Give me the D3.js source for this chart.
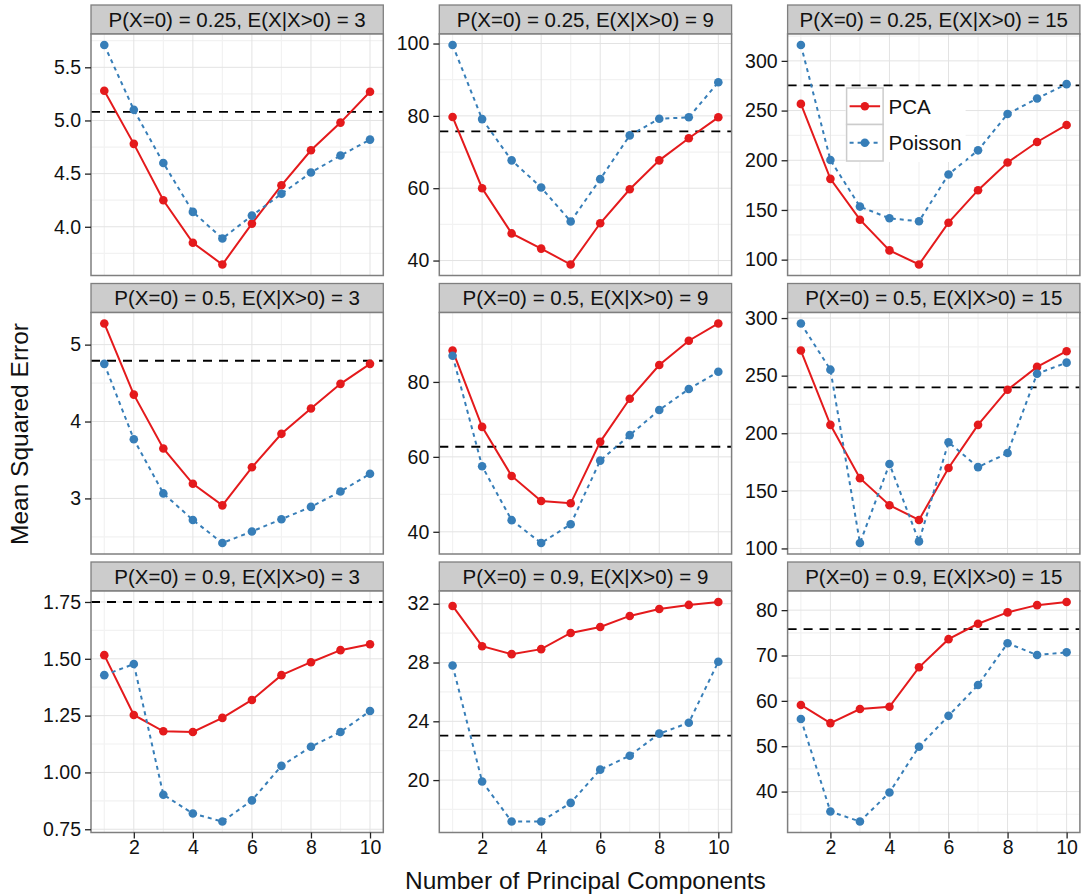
<!DOCTYPE html>
<html>
<head>
<meta charset="utf-8">
<script src="https://cdn.jsdelivr.net/npm/d3@7"></script>
<style>
  body { margin: 0; background: #fff; }
  svg text { font-family: "Liberation Sans", Arial, sans-serif; }
</style>
</head>
<body>
<div id="chart"></div>
<script>
// number of principal components on the x axis
const components = [1, 2, 3, 4, 5, 6, 7, 8, 9, 10]
const xTickLabels = ["2", "4", "6", "8", "10"]

// facet strips, read left to right, top to bottom
const stripLabels = [
  "P(X=0) = 0.25, E(X|X>0) = 3", "P(X=0) = 0.25, E(X|X>0) = 9", "P(X=0) = 0.25, E(X|X>0) = 15",
  "P(X=0) = 0.5, E(X|X>0) = 3", "P(X=0) = 0.5, E(X|X>0) = 9", "P(X=0) = 0.5, E(X|X>0) = 15",
  "P(X=0) = 0.9, E(X|X>0) = 3", "P(X=0) = 0.9, E(X|X>0) = 9", "P(X=0) = 0.9, E(X|X>0) = 15"
]

const pcaMSE = [
  [5.28, 4.78, 4.25, 3.85, 3.645, 4.03, 4.39, 4.72, 4.98, 5.27],
  [79.7, 60.0, 47.5, 43.3, 38.9, 50.3, 59.7, 67.7, 73.8, 79.6],
  [256.7, 181.3, 140.2, 109.3, 95.1, 137.2, 169.9, 197.8, 218.4, 235.5],
  [5.275, 4.35, 3.65, 3.19, 2.91, 3.405, 3.84, 4.17, 4.49, 4.75],
  [88.4, 68.0, 54.9, 48.2, 47.6, 64.0, 75.5, 84.5, 91.0, 95.6],
  [271.8, 207.3, 161.0, 137.5, 124.7, 169.8, 207.3, 237.8, 257.6, 271.2],
  [1.516, 1.253, 1.181, 1.178, 1.240, 1.319, 1.428, 1.485, 1.538, 1.564],
  [31.85, 29.11, 28.57, 28.91, 30.01, 30.42, 31.17, 31.64, 31.92, 32.12],
  [59.1, 55.1, 58.2, 58.7, 67.4, 73.6, 77.0, 79.5, 81.1, 81.8]
]

const poissonMSE = [
  [5.71, 5.10, 4.60, 4.14, 3.89, 4.105, 4.31, 4.51, 4.67, 4.82],
  [99.6, 79.1, 67.7, 60.2, 50.8, 62.5, 74.6, 79.2, 79.6, 89.3],
  [316.0, 200.2, 153.4, 141.6, 138.6, 185.7, 210.0, 246.6, 262.1, 276.6],
  [4.75, 3.77, 3.065, 2.72, 2.42, 2.57, 2.73, 2.89, 3.09, 3.32],
  [87.0, 57.5, 43.1, 37.0, 42.0, 59.0, 65.8, 72.5, 78.1, 82.7],
  [295.3, 255.2, 104.7, 173.3, 106.1, 192.2, 170.6, 182.8, 251.7, 261.3],
  [1.428, 1.477, 0.902, 0.819, 0.784, 0.877, 1.029, 1.113, 1.178, 1.270],
  [27.8, 19.9, 17.18, 17.18, 18.45, 20.71, 21.66, 23.16, 23.90, 28.05],
  [56.0, 35.6, 33.4, 39.8, 49.9, 56.7, 63.5, 72.7, 70.1, 70.7]
]

// dashed reference line in each panel
const baselineMSE = [5.08, 75.7, 275.3, 4.79, 62.7, 239.8, 1.75, 23.02, 75.8]

const yTickLabels = [
  ["4.0", "4.5", "5.0", "5.5"],
  ["40", "60", "80", "100"],
  ["100", "150", "200", "250", "300"],
  ["3", "4", "5"],
  ["40", "60", "80"],
  ["100", "150", "200", "250", "300"],
  ["0.75", "1.00", "1.25", "1.50", "1.75"],
  ["20", "24", "28", "32"],
  ["40", "50", "60", "70", "80"]
]

const seriesNames = ["PCA", "Poisson"]
const seriesColors = ["#E41A1C", "#377EB8"]
const seriesDash = [null, "4,4"]

// layout
var marginLeft = 91, marginTop = 5
var colW = 292.3, colGap = 56
var stripH = 29, panelH = 241.5, rowGap = 8

var svg = d3.select("#chart")
  .append("svg")
  .attr("width", 1083)
  .attr("height", 896)

var xExt = d3.extent(components)
var xPad = (xExt[1] - xExt[0]) * 0.05
var x = d3.scaleLinear()
  .domain([xExt[0] - xPad, xExt[1] + xPad])
  .range([0, colW])

stripLabels.forEach(function(label, i) {
  var row = Math.floor(i / 3), col = i % 3
  var g = svg.append("g")
    .attr("transform", "translate(" + (marginLeft + col * (colW + colGap)) + "," + (marginTop + row * (stripH + panelH + rowGap)) + ")")

  // strip
  g.append("rect")
    .attr("x", 0).attr("y", 0)
    .attr("width", colW).attr("height", stripH)
    .attr("fill", "#CCCCCC")
    .attr("stroke", "#7F7F7F")
    .attr("stroke-width", 1.3)
  g.append("text")
    .attr("x", colW / 2).attr("y", stripH / 2 + 7)
    .attr("text-anchor", "middle")
    .attr("font-size", "20.5px")
    .attr("fill", "#111")
    .text(label)

  var p = g.append("g").attr("transform", "translate(0," + stripH + ")")

  var all = pcaMSE[i].concat(poissonMSE[i], [baselineMSE[i]])
  var ext = d3.extent(all)
  var pad = (ext[1] - ext[0]) * 0.05
  var y = d3.scaleLinear()
    .domain([ext[0] - pad, ext[1] + pad])
    .range([panelH, 0])

  p.append("rect")
    .attr("width", colW).attr("height", panelH)
    .attr("fill", "#fff")

  // minor grid
  var ticks = yTickLabels[i].map(Number)
  var step = ticks[1] - ticks[0]
  var minorY = [ticks[0] - step / 2].concat(ticks.map(function(t) { return t + step / 2 }))
    .filter(function(v) { return v > y.domain()[0] && v < y.domain()[1] })
  p.selectAll(".minory")
    .data(minorY)
    .enter().append("line")
    .attr("x1", 0).attr("x2", colW)
    .attr("y1", function(d) { return y(d) }).attr("y2", function(d) { return y(d) })
    .attr("stroke", "#F2F2F2").attr("stroke-width", 1.2)
  p.selectAll(".minorx")
    .data(components.filter(function(d) { return d % 2 == 1 }))
    .enter().append("line")
    .attr("y1", 0).attr("y2", panelH)
    .attr("x1", function(d) { return x(d) }).attr("x2", function(d) { return x(d) })
    .attr("stroke", "#F2F2F2").attr("stroke-width", 1.2)

  // major grid
  p.selectAll(".majory")
    .data(ticks)
    .enter().append("line")
    .attr("x1", 0).attr("x2", colW)
    .attr("y1", function(d) { return y(d) }).attr("y2", function(d) { return y(d) })
    .attr("stroke", "#E3E3E3").attr("stroke-width", 1)
  p.selectAll(".majorx")
    .data(xTickLabels.map(Number))
    .enter().append("line")
    .attr("y1", 0).attr("y2", panelH)
    .attr("x1", function(d) { return x(d) }).attr("x2", function(d) { return x(d) })
    .attr("stroke", "#E3E3E3").attr("stroke-width", 1)

  // reference line
  p.append("line")
    .attr("x1", 0).attr("x2", colW)
    .attr("y1", y(baselineMSE[i])).attr("y2", y(baselineMSE[i]))
    .attr("stroke", "#000")
    .attr("stroke-width", 1.8)
    .attr("stroke-dasharray", "9,7")

  var series = [pcaMSE[i], poissonMSE[i]]
  var line = d3.line()
    .x(function(d, j) { return x(components[j]) })
    .y(function(d) { return y(d) })

  series.forEach(function(vals, s) {
    p.append("path")
      .datum(vals)
      .attr("d", line)
      .attr("fill", "none")
      .attr("stroke", seriesColors[s])
      .attr("stroke-width", 2)
      .attr("stroke-dasharray", seriesDash[s])
  })
  series.forEach(function(vals, s) {
    p.selectAll(".pt" + s)
      .data(vals)
      .enter().append("circle")
      .attr("cx", function(d, j) { return x(components[j]) })
      .attr("cy", function(d) { return y(d) })
      .attr("r", 4.3)
      .attr("fill", seriesColors[s])
  })

  // border
  p.append("rect")
    .attr("width", colW).attr("height", panelH)
    .attr("fill", "none")
    .attr("stroke", "#7F7F7F")
    .attr("stroke-width", 1.5)

  // y axis
  var yAxis = p.append("g")
    .call(d3.axisLeft(y)
      .tickValues(ticks)
      .tickFormat(function(d, k) { return yTickLabels[i][k] })
      .tickSize(6)
      .tickSizeOuter(0)
      .tickPadding(4))
  yAxis.select(".domain").remove()
  yAxis.selectAll("line").attr("stroke", "#222").attr("stroke-width", 1.3)
  yAxis.selectAll("text")
    .attr("font-size", "19.5px")
    .attr("fill", "#111")
    .attr("font-family", "Liberation Sans, Arial, sans-serif")

  // x axis only on the bottom row
  if (row == 2) {
    var xAxis = p.append("g")
      .attr("transform", "translate(0," + panelH + ")")
      .call(d3.axisBottom(x)
        .tickValues(xTickLabels.map(Number))
        .tickFormat(function(d, k) { return xTickLabels[k] })
        .tickSize(6)
        .tickSizeOuter(0)
        .tickPadding(2))
    xAxis.select(".domain").remove()
    xAxis.selectAll("line").attr("stroke", "#222").attr("stroke-width", 1.3)
    xAxis.selectAll("text")
      .attr("font-size", "19.5px")
      .attr("fill", "#111")
      .attr("font-family", "Liberation Sans, Arial, sans-serif")
  }

  // legend lives inside the top right panel
  if (i == 2) {
    var lg = p.append("g").attr("transform", "translate(59,54)")
    lg.append("rect")
      .attr("x", -1).attr("y", -1)
      .attr("width", 120).attr("height", 75)
      .attr("fill", "#fff")
    seriesNames.forEach(function(name, s) {
      var ky = s * 36.5
      lg.append("rect")
        .attr("x", 0).attr("y", ky)
        .attr("width", 36.5).attr("height", 36.5)
        .attr("fill", "#fff")
        .attr("stroke", "#CCCCCC")
        .attr("stroke-width", 1.5)
      lg.append("line")
        .attr("x1", 3).attr("x2", 33.5)
        .attr("y1", ky + 18.25).attr("y2", ky + 18.25)
        .attr("stroke", seriesColors[s])
        .attr("stroke-width", 2)
        .attr("stroke-dasharray", seriesDash[s])
      lg.append("circle")
        .attr("cx", 18.25).attr("cy", ky + 18.25)
        .attr("r", 4.3)
        .attr("fill", seriesColors[s])
      lg.append("text")
        .attr("x", 42).attr("y", ky + 18.25 + 7.3)
        .attr("font-size", "20.5px")
        .attr("fill", "#111")
        .text(name)
    })
  }
})

// axis titles
svg.append("text")
  .attr("x", marginLeft + (3 * colW + 2 * colGap) / 2)
  .attr("y", 889)
  .attr("text-anchor", "middle")
  .attr("font-size", "24.5px")
  .attr("fill", "#111")
  .text("Number of Principal Components")

svg.append("text")
  .attr("transform", "translate(28,434) rotate(-90)")
  .attr("text-anchor", "middle")
  .attr("font-size", "24.5px")
  .attr("fill", "#111")
  .text("Mean Squared Error")
</script>
</body>
</html>
